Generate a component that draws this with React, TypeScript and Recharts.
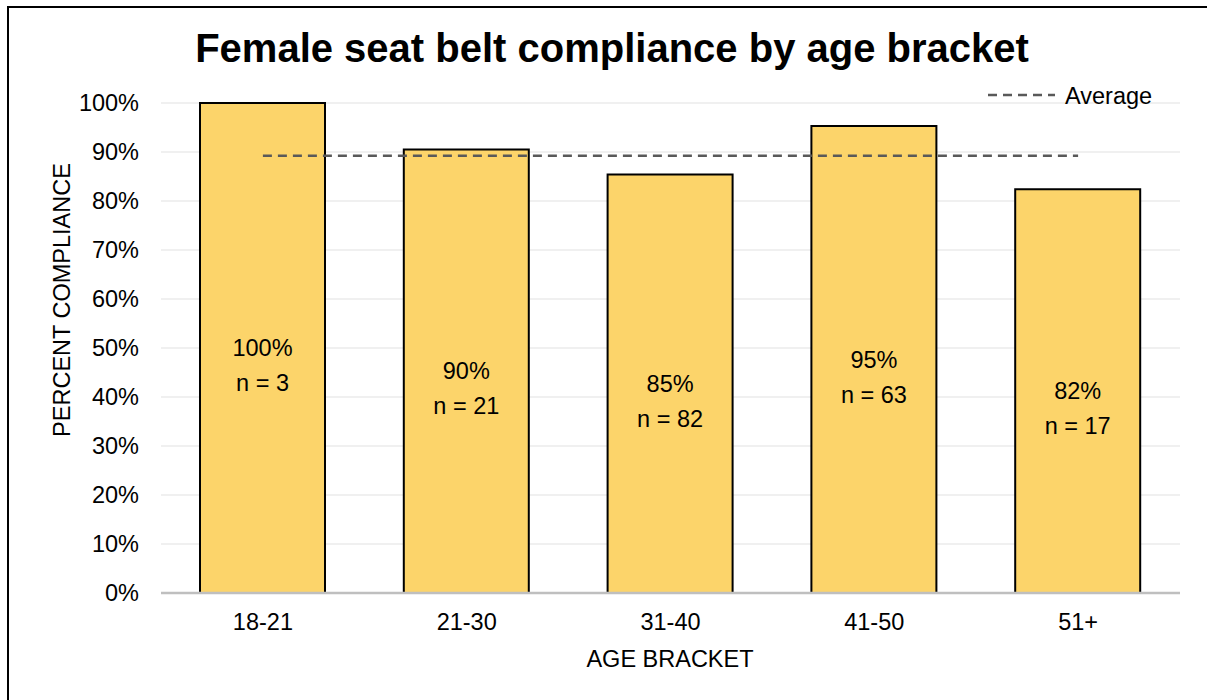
import { Bar, CartesianGrid, ComposedChart, LabelList, Line, XAxis, YAxis } from 'recharts';

const ageBrackets = ['18-21', '21-30', '31-40', '41-50', '51+'];
const compliance = [1.0, 0.905, 0.854, 0.953, 0.824];
const pctLabels = ['100%', '90%', '85%', '95%', '82%'];
const sampleSizes = [3, 21, 82, 63, 17];
const averageLine = [0.8925, 0.8925, 0.8925, 0.8925, 0.8925];
const yTicks = [0, 0.1, 0.2, 0.3, 0.4, 0.5, 0.6, 0.7, 0.8, 0.9, 1.0];

const data = ageBrackets.map((bracket, i) => ({
  bracket,
  value: compliance[i],
  average: averageLine[i],
}));

const FONT = '"Liberation Sans", Arial, sans-serif';

function BarLabel(props: any) {
  const { x, y, width, height, index } = props;
  const cx = x + width / 2;
  const cy = y + height / 2;
  return (
    <g>
      <text x={cx} y={cy} textAnchor="middle" dominantBaseline="central" fontSize={23.5} fill="#000" fontFamily={FONT}>
        {pctLabels[index]}
      </text>
      <text x={cx} y={cy + 35} textAnchor="middle" dominantBaseline="central" fontSize={23.5} fill="#000" fontFamily={FONT}>
        {`n = ${sampleSizes[index]}`}
      </text>
    </g>
  );
}

export default function App() {
  return (
    <div style={{ position: 'absolute', left: 0, top: 0, width: 1207, height: 700, overflow: 'hidden', background: '#fff', fontFamily: FONT }}>
      <div style={{ position: 'absolute', left: 7, top: 6, width: 1300, height: 800, border: '2px solid #000' }} />
      <div style={{ position: 'absolute', left: 0, width: 1224, top: 48, transform: 'translateY(-50%)', textAlign: 'center', fontSize: 40, fontWeight: 'bold', color: '#000', whiteSpace: 'nowrap' }}>
        Female seat belt compliance by age bracket
      </div>
      <div style={{ position: 'absolute', left: 0, top: 0 }}>
        <ComposedChart width={1207} height={700} data={data} margin={{ top: 103, right: 27, bottom: 77, left: 61 }}>
          <CartesianGrid stroke="#EBEBEB" strokeWidth={1.5} vertical={false} />
          <XAxis
            dataKey="bracket"
            height={30}
            tickLine={false}
            axisLine={{ stroke: '#BFBFBF', strokeWidth: 2.5 }}
            tickMargin={14}
            tick={{ fill: '#000', fontSize: 23.5, fontFamily: FONT }}
          />
          <YAxis
            width={100}
            domain={[0, 1]}
            ticks={yTicks}
            interval={0}
            tickFormatter={(v: number) => `${Math.round(v * 100)}%`}
            tickLine={false}
            axisLine={false}
            tickMargin={16}
            tick={{ fill: '#000', fontSize: 23.5, fontFamily: FONT }}
          />
          <Bar dataKey="value" barSize={125} fill="#FCD46A" stroke="#000" strokeWidth={2} isAnimationActive={false}>
            <LabelList dataKey="value" content={BarLabel} />
          </Bar>
          <Line
            type="linear"
            dataKey="average"
            stroke="#595959"
            strokeWidth={2.5}
            strokeDasharray="9 6"
            dot={false}
            activeDot={false}
            isAnimationActive={false}
          />
        </ComposedChart>
      </div>
      <div
        style={{
          position: 'absolute',
          left: 62,
          top: 300,
          transform: 'translate(-50%, -50%) rotate(-90deg)',
          whiteSpace: 'nowrap',
          fontSize: 23.5,
          color: '#000',
        }}
      >
        PERCENT COMPLIANCE
      </div>
      <div style={{ position: 'absolute', left: 670, top: 659, transform: 'translate(-50%, -50%)', whiteSpace: 'nowrap', fontSize: 23.5, color: '#000' }}>
        AGE BRACKET
      </div>
      <svg style={{ position: 'absolute', left: 985, top: 84 }} width={75} height={20}>
        <line x1={3} y1={11} x2={70} y2={11} stroke="#595959" strokeWidth={2.5} strokeDasharray="9 6" />
      </svg>
      <div style={{ position: 'absolute', left: 1065, top: 96, transform: 'translateY(-50%)', fontSize: 23.5, color: '#000', whiteSpace: 'nowrap' }}>
        Average
      </div>
    </div>
  );
}
